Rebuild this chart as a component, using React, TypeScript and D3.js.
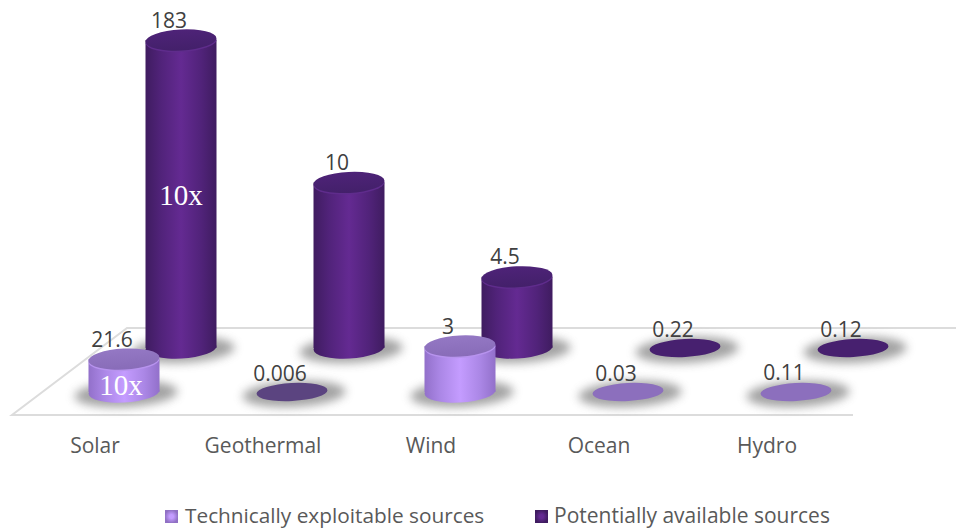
import React from "react";
import * as d3 from "d3";

const categories = ["Solar", "Geothermal", "Wind", "Ocean", "Hydro"];
const seriesNames = ["Technically exploitable sources", "Potentially available sources"];
const technicalLabels = ["21.6", "0.006", "3", "0.03", "0.11"];
const potentialLabels = ["183", "10", "4.5", "0.22", "0.12"];
// Solar is drawn at one tenth of its value, flagged with a "10x" label on the bar.
const technicalValues = [21.6, 0.006, 3, 0.03, 0.11];
const potentialValues = [183, 10, 4.5, 0.22, 0.12];
const plotDivisors = [10, 1, 1, 1, 1];
const scaleNote = "10x";

const W = 956;
const H = 531;
const RX = 35.5;
const RY = 10.5;
const TILT = -3;
const LABEL_SHIFT = -12;

const x = d3.scaleBand<string>().domain(categories).range([11, 851]);
const frontHeight = d3.scaleLinear().domain([0.05, 3]).range([0, 46]).clamp(true);
const backHeight = d3.scaleLinear().domain([0.35, 18.3]).range([0, 308]).clamp(true);

const rows = [
  { key: "tech", values: technicalValues, labels: technicalLabels, dx: 29, base: 392, h: frontHeight, side: "gradTech", top: "gradTechTop", rim: "#b793ee", disc: "#8c6fbd" },
  { key: "pot", values: potentialValues, labels: potentialLabels, dx: 86, base: 348, h: backHeight, side: "gradPot", top: "gradPotTop", rim: "#5f2c8c", disc: "#47206f" },
];

function tiltAt(cx: number, cy: number) {
  return `rotate(${TILT} ${cx} ${cy})`;
}

function Mark({ cx, base, height, side, top, rim, disc }: any) {
  const yTop = base - height;
  if (height < 1) {
    return <ellipse cx={cx} cy={base} rx={RX} ry={9} fill={disc} transform={tiltAt(cx, base)} />;
  }
  return (
    <g>
      <ellipse cx={cx} cy={base} rx={RX} ry={RY} fill={`url(#${side})`} transform={tiltAt(cx, base)} />
      <rect x={cx - RX} y={yTop} width={RX * 2} height={height} fill={`url(#${side})`} />
      <ellipse cx={cx} cy={yTop + 1.5} rx={RX} ry={RY} fill={rim} transform={tiltAt(cx, yTop)} />
      <ellipse cx={cx} cy={yTop} rx={RX} ry={RY} fill={`url(#${top})`} transform={tiltAt(cx, yTop)} />
    </g>
  );
}

export default function App() {
  const centre = (c: string) => (x(c) as number) + x.bandwidth() / 2;
  const font = "'Open Sans', sans-serif";
  return (
    <svg width={W} height={H} style={{ position: "absolute", left: 0, top: 0, background: "#fff" }}>
      <defs>
        <linearGradient id="gradPot" x1="0" x2="1" y1="0" y2="0">
          <stop offset="0" stopColor="#3f1c60" />
          <stop offset="0.22" stopColor="#51237a" />
          <stop offset="0.5" stopColor="#642a92" />
          <stop offset="0.78" stopColor="#51237a" />
          <stop offset="1" stopColor="#3f1c60" />
        </linearGradient>
        <linearGradient id="gradTech" x1="0" x2="1" y1="0" y2="0">
          <stop offset="0" stopColor="#9270ca" />
          <stop offset="0.22" stopColor="#ab87e6" />
          <stop offset="0.5" stopColor="#c49cff" />
          <stop offset="0.78" stopColor="#ab87e6" />
          <stop offset="1" stopColor="#9270ca" />
        </linearGradient>
        <linearGradient id="gradPotTop" x1="0" x2="0" y1="0" y2="1">
          <stop offset="0" stopColor="#4e2378" />
          <stop offset="1" stopColor="#43206a" />
        </linearGradient>
        <linearGradient id="gradTechTop" x1="0" x2="0" y1="0" y2="1">
          <stop offset="0" stopColor="#9478c4" />
          <stop offset="1" stopColor="#886cb8" />
        </linearGradient>
        <radialGradient id="keyTech">
          <stop offset="0.3" stopColor="#c49cff" />
          <stop offset="1" stopColor="#9070c4" />
        </radialGradient>
        <radialGradient id="keyPot">
          <stop offset="0.3" stopColor="#642a92" />
          <stop offset="1" stopColor="#3f1c60" />
        </radialGradient>
        <filter id="soft" x="-30%" y="-80%" width="160%" height="260%">
          <feGaussianBlur stdDeviation="5" />
        </filter>
      </defs>

      {/* Floor of the plot */}
      <polyline points="956,328 127,328 12,415 853,415" fill="none" stroke="#dcdcdc" strokeWidth={2} />

      {/* Contact shadows */}
      {rows.map((r) =>
        categories.map((c) => (
          <ellipse
            key={r.key + c}
            cx={centre(c) + r.dx + 2}
            cy={r.base + 2}
            rx={RX + 16}
            ry={13}
            fill="#808080"
            opacity={0.72}
            filter="url(#soft)"
            transform={tiltAt(centre(c) + r.dx, r.base)}
          />
        ))
      )}

      {/* Back row first, so the front row overlaps it */}
      {[rows[1], rows[0]].map((r) =>
        categories.map((c, i) => (
          <Mark
            key={r.key + c}
            cx={centre(c) + r.dx}
            base={r.base}
            height={r.h(r.values[i] / plotDivisors[i])}
            side={r.side}
            top={r.top}
            rim={r.rim}
            disc={c === "Geothermal" && r.key === "tech" ? "#5b4480" : r.disc}
          />
        ))
      )}

      {/* Value labels */}
      {rows.map((r) =>
        categories.map((c, i) => {
          const height = r.h(r.values[i] / plotDivisors[i]);
          const yTop = r.base - height - (height < 1 ? 9 : RY);
          return (
            <text
              key={r.key + c}
              x={centre(c) + r.dx + LABEL_SHIFT}
              y={yTop - 2}
              textAnchor="middle"
              fontFamily={font}
              fontSize={21}
              fill="#404040"
            >
              {r.labels[i]}
            </text>
          );
        })
      )}

      {/* Scale notes on the Solar bars */}
      <text x={centre("Solar") + 86} y={205} textAnchor="middle" fontFamily="'Liberation Serif', serif" fontSize={29} fill="#fff">
        {scaleNote}
      </text>
      <text x={centre("Solar") + 26} y={395} textAnchor="middle" fontFamily="'Liberation Serif', serif" fontSize={29} fill="#fff">
        {scaleNote}
      </text>

      {/* Category axis */}
      {categories.map((c) => (
        <text key={c} x={centre(c)} y={453} textAnchor="middle" fontFamily={font} fontSize={21} fill="#595959">
          {c}
        </text>
      ))}

      {/* Legend */}
      <rect x={165} y={510} width={13} height={13} fill="url(#keyTech)" />
      <text x={185} y={523} fontFamily={font} fontSize={20.8} fill="#595959">
        {seriesNames[0]}
      </text>
      <rect x={535} y={510} width={13} height={13} fill="url(#keyPot)" />
      <text x={554} y={523} fontFamily={font} fontSize={21} fill="#595959">
        {seriesNames[1]}
      </text>
    </svg>
  );
}
